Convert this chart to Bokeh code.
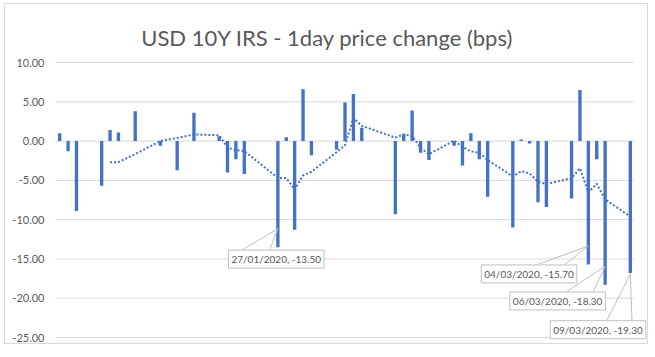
import pandas as pd
from bokeh.plotting import figure
from bokeh.models import Range1d, FixedTicker, NumeralTickFormatter, Label, ColumnDataSource
from bokeh.embed import file_html
from bokeh.resources import INLINE

# ---------------- data ----------------
dates = ["2020-01-01", "2020-01-02", "2020-01-03", "2020-01-06", "2020-01-07", "2020-01-08",
         "2020-01-10", "2020-01-13", "2020-01-15", "2020-01-17", "2020-01-20", "2020-01-21",
         "2020-01-22", "2020-01-23", "2020-01-27", "2020-01-28", "2020-01-29", "2020-01-30",
         "2020-01-31", "2020-02-03", "2020-02-04", "2020-02-05", "2020-02-06", "2020-02-10",
         "2020-02-11", "2020-02-12", "2020-02-13", "2020-02-14", "2020-02-17", "2020-02-18",
         "2020-02-19", "2020-02-20", "2020-02-21", "2020-02-24", "2020-02-25", "2020-02-26",
         "2020-02-27", "2020-02-28", "2020-03-02", "2020-03-03", "2020-03-04", "2020-03-05",
         "2020-03-06", "2020-03-09"]
changes = [1.0, -1.3, -8.9, -5.7, 1.4, 1.1,
           3.8, -0.6, -3.7, 3.6, 0.6, -4.0,
           -2.3, -4.2, -13.5, 0.5, -11.3, 6.6,
           -1.8, -1.1, 4.9, 6.0, 1.7, -9.3,
           0.9, 3.9, -1.5, -2.4, -0.6, -3.1,
           1.0, -2.3, -7.1, -11.0, 0.2, -0.3,
           -7.8, -8.4, -7.3, 6.5, -15.7, -2.3,
           -18.3, -16.8]
# 5-period moving-average trendline (starts at 5th point)
ma_dates = dates[4:]
ma_values = [-2.70, -2.68, -1.66, 0.00, 0.40, 0.84, 0.74, -0.82, -1.16, -1.26,
             -4.68, -4.70, -6.16, -4.38, -3.90, -1.42, -0.54, 2.92, 1.94, 0.44,
             0.84, 0.64, -0.86, -1.68, 0.06, -0.74, -1.32, -1.48, -2.42, -4.50,
             -3.84, -4.10, -5.20, -5.46, -4.72, -3.46, -6.54, -5.44, -7.42, -9.60]
y_ticks = [-25, -20, -15, -10, -5, 0, 5, 10]
title_text = "USD 10Y IRS - 1day price change (bps)"
ann_dates = ["2020-01-27", "2020-03-04", "2020-03-06", "2020-03-09"]
ann_values = [-13.5, -15.7, -18.3, -19.3]

# ---------------- layout (page pixels) ----------------
OX, OY = 5, 4                 # canvas offset inside the page (chart-area border)
CW, CH = 644, 341             # canvas size
PL, PT, PR, PB = 55, 62, 634, 337   # plot area (gridlines) on the page
FL, FT, FR, FB = 55, OY, OX + CW, OY + CH  # bokeh frame (covers the whole chart area)

BAR = "#4472C4"
GRID = "#D9D9D9"
TXT = "#595959"
LEAD = "#BFBFBF"

origin = pd.Timestamp("2020-01-01")
day = [(pd.Timestamp(d) - origin).days for d in dates]
ma_day = [(pd.Timestamp(d) - origin).days for d in ma_dates]
ax0, ax1 = min(day) - 0.5, max(day) + 0.5      # axis extent (plot area)
ay0, ay1 = min(y_ticks), max(y_ticks)

sx = (PR - PL) / (ax1 - ax0)    # px per day
sy = (PB - PT) / (ay1 - ay0)    # px per unit


def xd(px):
    return ax0 + (px - PL) / sx


def yd(py):
    return ay1 - (py - PT) / sy


def xp(x):
    return PL + (x - ax0) * sx


def yp(y):
    return PT + (ay1 - y) * sy


p = figure(width=CW, height=CH, output_backend="svg", toolbar_location=None,
           x_range=Range1d(xd(FL), xd(FR)), y_range=Range1d(yd(FB), yd(FT)),
           x_axis_location=None,
           min_border_left=FL - OX, min_border_right=0,
           min_border_top=0, min_border_bottom=0,
           background_fill_color="white", border_fill_color="white",
           styles={"margin-left": "4px", "margin-top": "3px",
                   "border": "1px solid #D9D9D9"})
p.outline_line_color = None
p.xgrid.visible = False
p.ygrid.visible = False
p.yaxis.ticker = FixedTicker(ticks=y_ticks)
p.yaxis.formatter = NumeralTickFormatter(format="0.00")
p.yaxis.axis_line_color = None
p.yaxis.major_tick_line_color = None
p.yaxis.minor_tick_line_color = None
p.yaxis.major_tick_out = 0
p.yaxis.major_tick_in = 0
p.yaxis.major_label_standoff = 11
p.yaxis.major_label_text_font = "Lato"
p.yaxis.major_label_text_font_size = "11px"
p.yaxis.major_label_text_color = TXT

# horizontal gridlines across the plot area only
p.segment(x0=[ax0] * len(y_ticks), x1=[ax1] * len(y_ticks), y0=y_ticks, y1=y_ticks,
          line_color=GRID, line_width=1)

src = ColumnDataSource(dict(x=day, top=changes))
p.vbar(x="x", top="top", bottom=0, width=0.4, source=src,
       fill_color=BAR, line_color=None)
p.line(ma_day, ma_values, line_color=BAR, line_width=2, line_dash="2 2")

# title
p.add_layout(Label(x=xd(327), y=yd(37), text=title_text, text_align="center",
                   text_baseline="middle", text_font="Lato",
                   text_font_size="22px", text_color=TXT))

# data labels with leader lines (offsets in page px from the leader anchor)
box_off = [(-1.6, 30.5), (-59.3, 28.0), (-47.5, 34.6), (-32.3, 55.5)]
lead_off = [((-35, 21), (-8, 21)), ((-50, 18.3), (-23.3, 18.3)),
            ((-38.3, 25), (-11.7, 25)), ((-23.3, 46), (1.7, 46))]
for d, v, bo, lo in zip(ann_dates, ann_values, box_off, lead_off):
    ts = pd.Timestamp(d)
    ax = xp((ts - origin).days)
    ay = yp(v) - 18.5
    for (ex, ey) in lo:
        p.segment(x0=[xd(ax)], y0=[yd(ay)], x1=[xd(ax + ex)], y1=[yd(ay + ey)],
                  line_color=LEAD, line_width=1)
    p.add_layout(Label(x=xd(ax + bo[0]), y=yd(ay + bo[1]),
                       text=f"{ts:%d/%m/%Y}, {v:.2f}",
                       text_align="center", text_baseline="middle",
                       text_font="Lato", text_font_size="10px", text_color=TXT,
                       background_fill_color="white", border_line_color=LEAD,
                       padding=3))

open("out.html", "w").write(file_html(p, INLINE))
